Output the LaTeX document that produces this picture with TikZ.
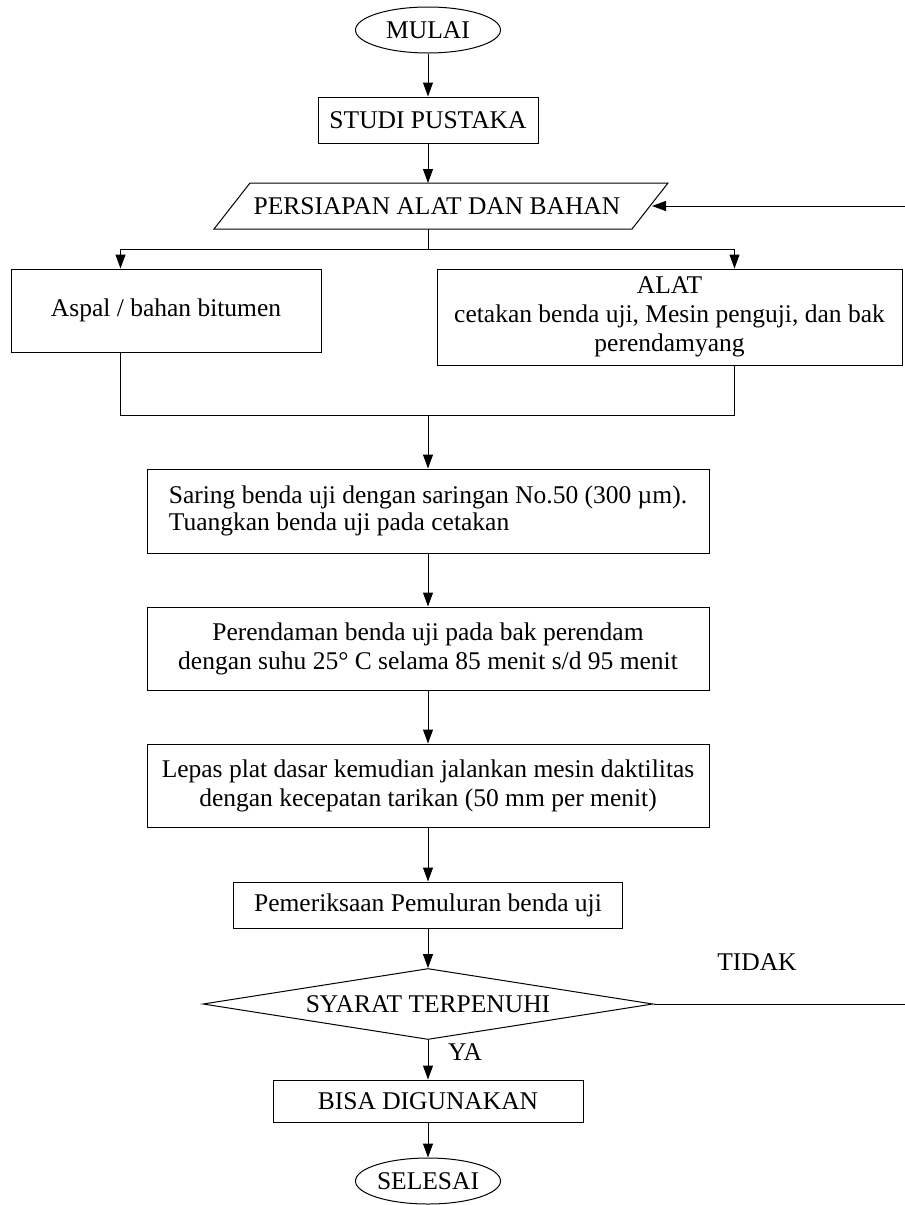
\documentclass[tikz,border=0pt]{standalone}
\usepackage{fontspec}
\setmainfont{Liberation Serif}
\usetikzlibrary{shapes.geometric,arrows.meta}
\begin{document}
\begin{tikzpicture}[x=1pt,y=-1pt,
  every node/.style={font=\fontsize{25.5}{29}\selectfont},
  box/.style={draw,line width=1pt,inner sep=0pt,align=center},
  term/.style={draw,ellipse,line width=1pt,inner sep=0pt,minimum width=145pt,minimum height=46pt},
  decision/.style={draw,diamond,line width=1pt,inner sep=0pt,minimum width=450pt,minimum height=71pt},
  label/.style={inner sep=0pt},
  arr/.style={line width=1pt,-{Triangle[length=14pt,width=10pt]}},
  ln/.style={line width=1pt}]
\useasboundingbox (0,0) rectangle (905,1205);

% terminals and process boxes of the main column
\node[term] (mulai) at (428,30) {MULAI};
\node[box,minimum width=220pt,minimum height=46pt] (studi) at (428,120) {STUDI PUSTAKA};

% input/output step drawn as a parallelogram
\coordinate (pTL) at (250,183);
\coordinate (pTR) at (668,183);
\coordinate (pBR) at (632,229);
\coordinate (pBL) at (214,229);
\draw[ln] (pTL) -- (pTR) -- (pBR) -- (pBL) -- cycle;
\node[label] (persiapan) at (437,206) {PERSIAPAN ALAT DAN BAHAN};
\coordinate (parTop) at (428,183);
\coordinate (parBot) at (428,229);
\coordinate (parIn) at (652,206);

% materials and tools
\node[box,minimum width=310pt,minimum height=83pt] (bahan) at (166,310.5) {Aspal / bahan bitumen};
\node[box,minimum width=465pt,minimum height=96pt] (alat) at (669.5,317)
  {ALAT\\cetakan benda uji, Mesin penguji, dan bak\\perendamyang};

\node[box,minimum width=562pt,minimum height=84pt,align=left,
      font=\fontsize{25.5}{27}\selectfont] (saring) at (428,511)
  {Saring benda uji dengan saringan No.50 (300 µm).\\Tuangkan benda uji pada cetakan};
\node[box,minimum width=562pt,minimum height=83pt] (rendam) at (428,648.5)
  {Perendaman benda uji pada bak perendam\\dengan suhu 25° C selama 85 menit s/d 95 menit};
\node[box,minimum width=562pt,minimum height=83pt] (lepas) at (428,785.5)
  {Lepas plat dasar kemudian jalankan mesin daktilitas\\dengan kecepatan tarikan (50 mm per menit)};
\node[box,minimum width=389pt,minimum height=46pt] (periksa) at (428,905) {Pemeriksaan Pemuluran benda uji};

\node[decision] (syarat) at (428,1004) {};
\node[label] (syarattext) at (428,1004) {SYARAT TERPENUHI};
\node[label] (tidak) at (757,962) {TIDAK};
\node[label] (ya) at (465,1052) {YA};

\node[box,minimum width=310pt,minimum height=42pt] (bisa) at (428,1101) {BISA DIGUNAKAN};
\node[term] (selesai) at (428,1181) {SELESAI};

% connectors
\draw[arr] (mulai) -- (studi);
\draw[arr] (studi) -- (parTop);

\coordinate (split) at (428,249);
\draw[ln] (parBot) -- (split);
\draw[arr] (split) -| ([xshift=110pt]bahan.north west);
\draw[arr] (split) -| ([xshift=298pt]alat.north west);

\coordinate (merge) at (428,415);
\coordinate (bahanOut) at ([xshift=110pt]bahan.south west);
\coordinate (alatOut) at ([xshift=298pt]alat.south west);
\draw[ln] (bahanOut) -- (bahanOut |- merge) -- (alatOut |- merge) -- (alatOut);
\draw[arr] (merge) -- (saring);

\draw[arr] (saring) -- (rendam);
\draw[arr] (rendam) -- (lepas);
\draw[arr] (lepas) -- (periksa);
\draw[arr] (periksa) -- (syarat.north);
\draw[arr] (syarat.south) -- (bisa);
\draw[arr] (bisa) -- (selesai);

% loop back when the requirement is not met
\draw[arr] (syarat.east) -- ++(262,0) |- (parIn);
\end{tikzpicture}
\end{document}
